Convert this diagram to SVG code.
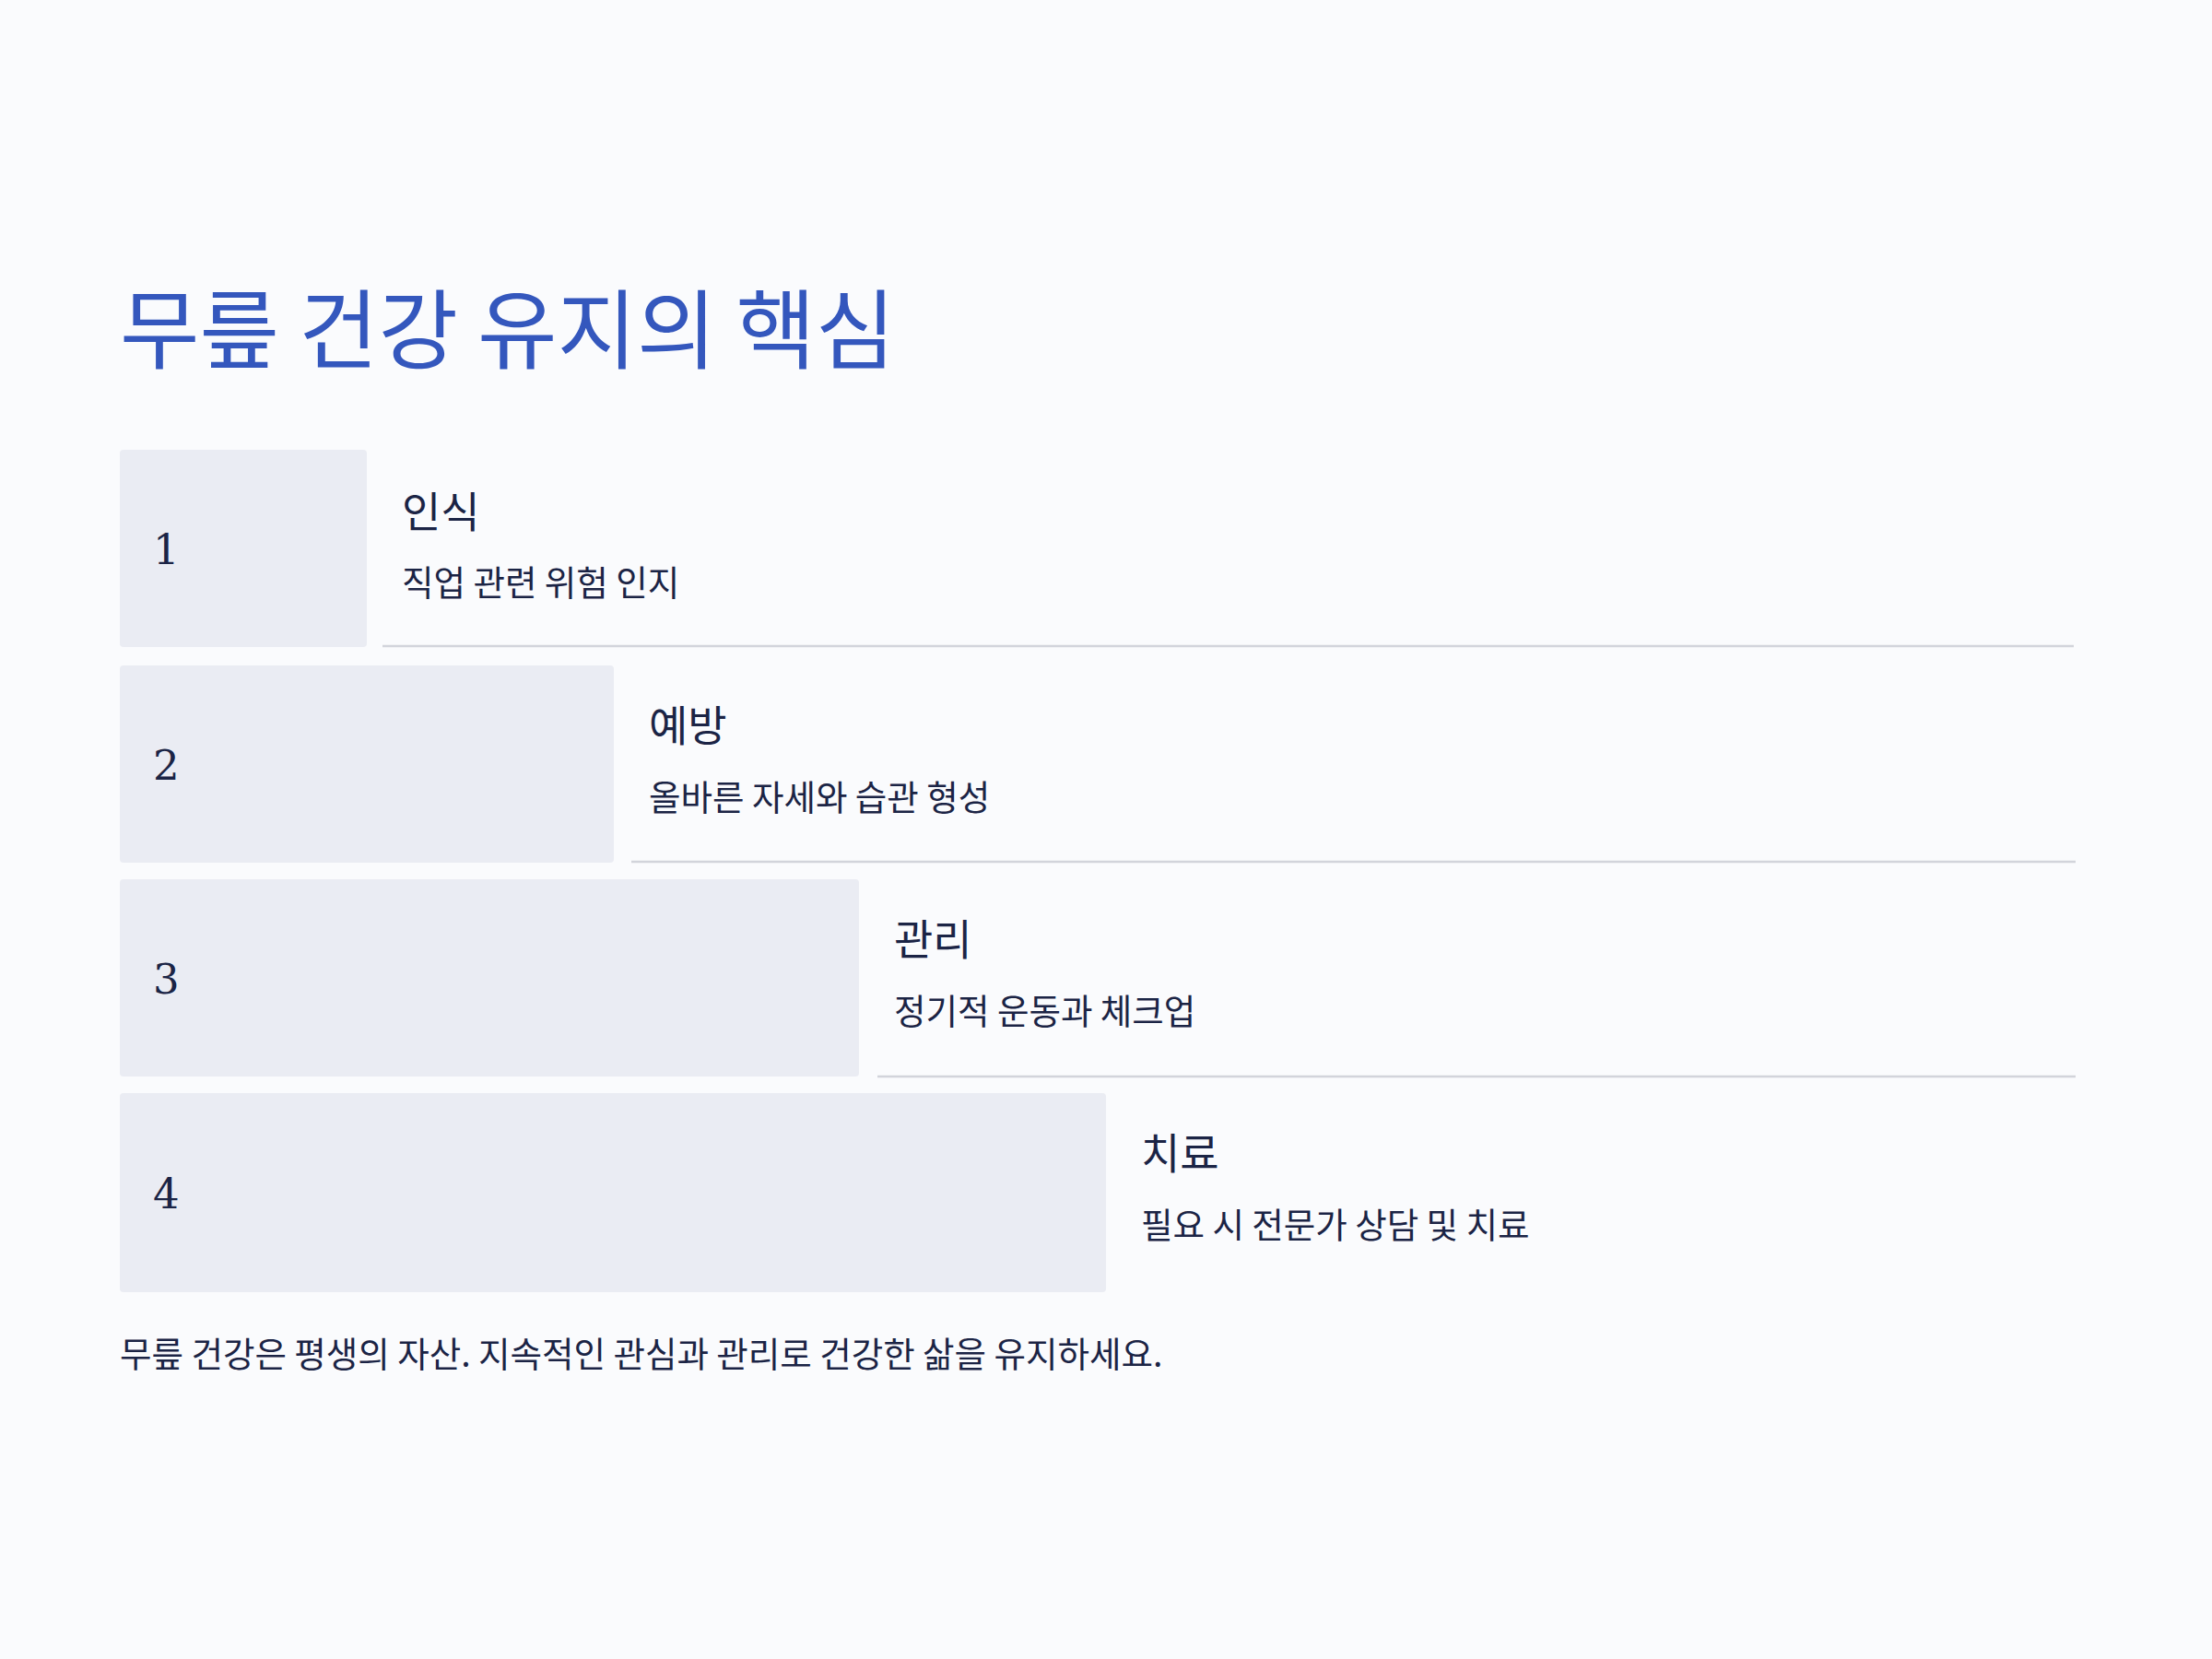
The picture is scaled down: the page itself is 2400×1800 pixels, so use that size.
<svg xmlns="http://www.w3.org/2000/svg" width="2400" height="1800" viewBox="0 0 2400 1800">
<style>
.bg{fill:#fafbfd}
.box{fill:#eaecf3}
.title{font-family:"Noto Sans CJK KR","Noto Sans",sans-serif;font-size:94px;fill:#3457bd}
.num{font-family:"DejaVu Serif","Liberation Serif",serif;font-size:45px;fill:#1b2445}
.head{font-family:"Noto Sans CJK KR","Noto Sans",sans-serif;font-size:46px;fill:#1b2445}
.sub{font-family:"Noto Sans CJK KR","Noto Sans",sans-serif;font-size:37.5px;fill:#1b2445}
.sep{stroke:#d2d4db;stroke-width:2.5}
</style>
<rect class="bg" x="0" y="0" width="2400" height="1800"/>
<text class="title" x="130" y="393">무릎 건강 유지의 핵심</text>
<g id="connectors">
<line class="sep" x1="415" y1="701" x2="2250" y2="701"/>
<line class="sep" x1="685" y1="935" x2="2252" y2="935"/>
<line class="sep" x1="952" y1="1168" x2="2252" y2="1168"/>
</g>
<g id="step1">
<rect class="box" x="130" y="488" width="268" height="214" rx="4"/>
<text class="num" x="166" y="612">1</text>
<text class="head" x="436" y="572">인식</text>
<text class="sub" x="436" y="646">직업 관련 위험 인지</text>
</g>
<g id="step2">
<rect class="box" x="130" y="722" width="536" height="214" rx="4"/>
<text class="num" x="166" y="846">2</text>
<text class="head" x="704" y="804">예방</text>
<text class="sub" x="704" y="879">올바른 자세와 습관 형성</text>
</g>
<g id="step3">
<rect class="box" x="130" y="954" width="802" height="214" rx="4"/>
<text class="num" x="166" y="1078">3</text>
<text class="head" x="970" y="1036">관리</text>
<text class="sub" x="970" y="1111">정기적 운동과 체크업</text>
</g>
<g id="step4">
<rect class="box" x="130" y="1186" width="1070" height="216" rx="4"/>
<text class="num" x="166" y="1311">4</text>
<text class="head" x="1238" y="1268">치료</text>
<text class="sub" x="1238" y="1343">필요 시 전문가 상담 및 치료</text>
</g>
<text class="sub" x="130" y="1483">무릎 건강은 평생의 자산. 지속적인 관심과 관리로 건강한 삶을 유지하세요.</text>
</svg>
